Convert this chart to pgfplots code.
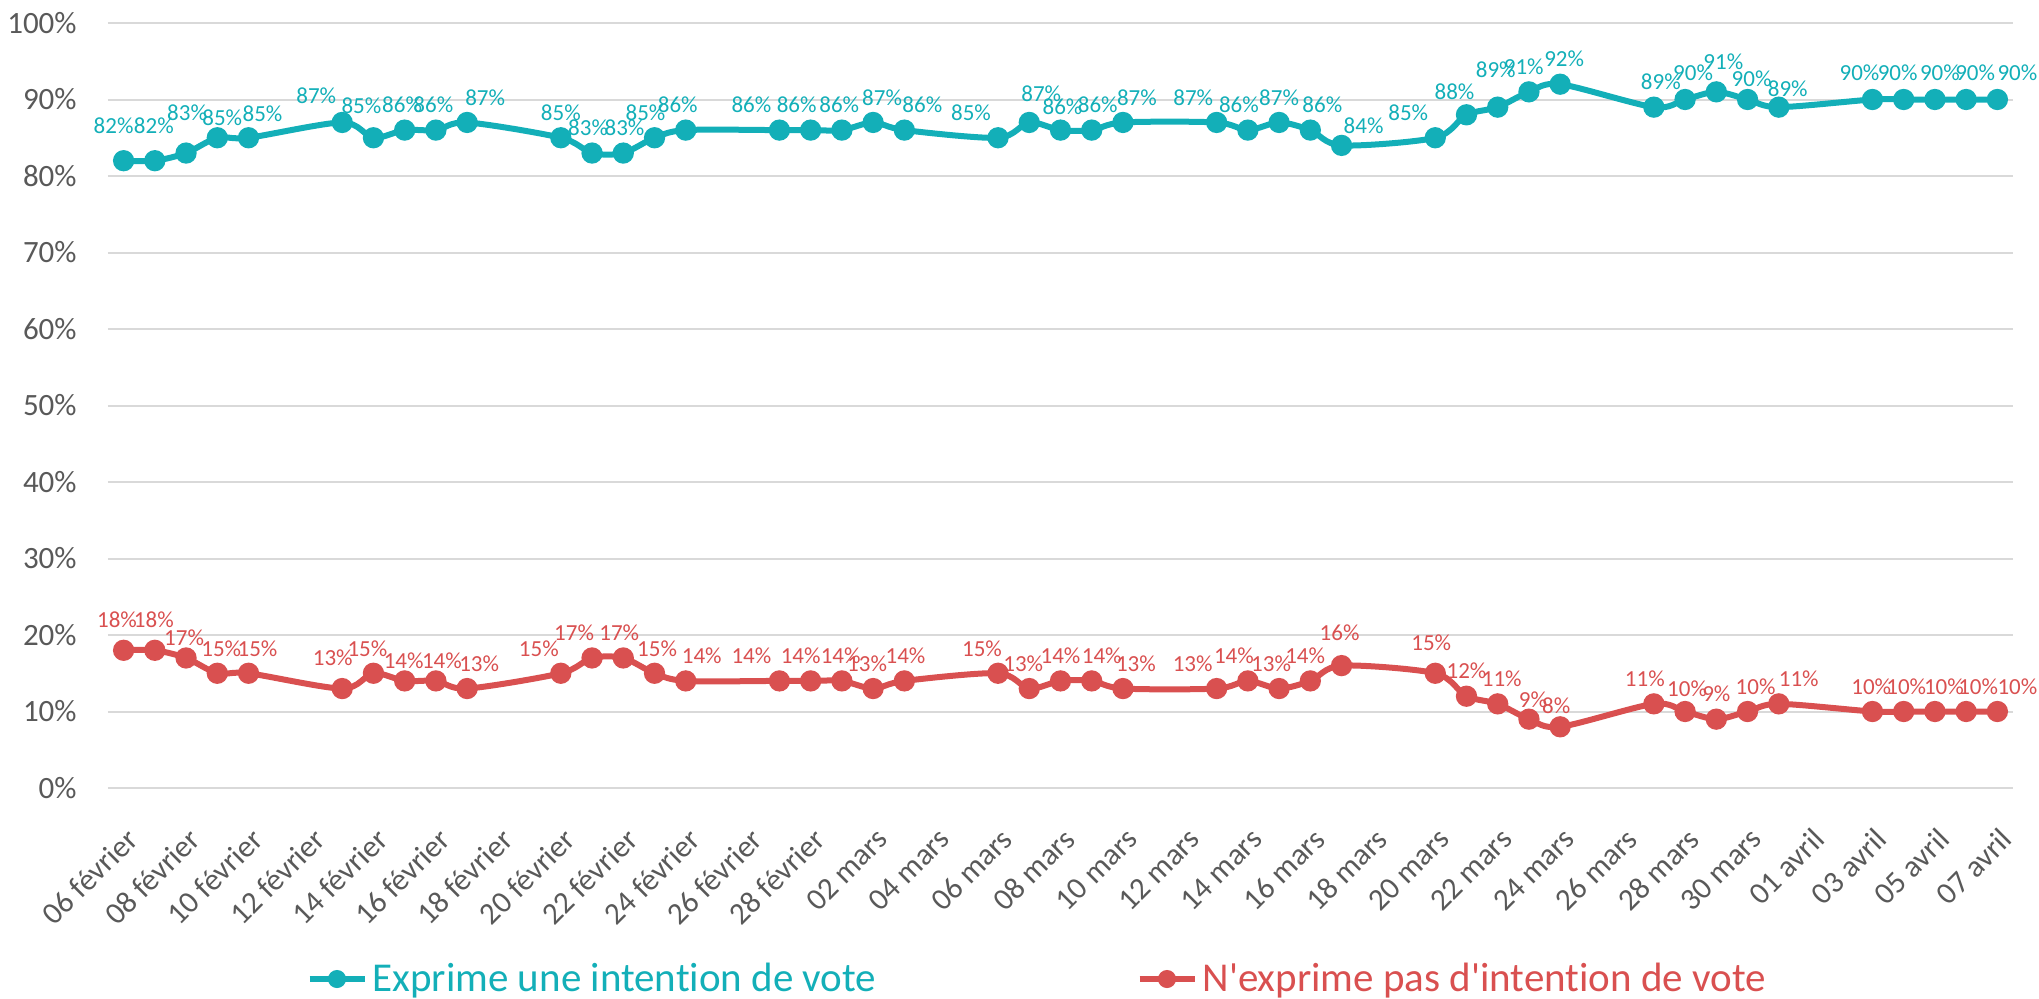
\documentclass[border=0pt]{standalone}
\usepackage{pgfplots}
\pgfplotsset{compat=1.18}
\usepackage{fontspec}
\setmainfont{Carlito}[Ligatures={NoCommon}]
\newfontfamily\legfont{Carlito}[Ligatures={NoCommon}]
\definecolor{tealc}{RGB}{19,175,184}
\definecolor{redc}{RGB}{217,80,80}
\definecolor{gridc}{RGB}{217,217,217}
\definecolor{textc}{RGB}{89,89,89}
\pgfplotstableread{
x y dx dy
0 82 -5 5
1 82 -0.5 5
2 83 0.5 7.5
3 85 2.5 -2.5
4 85 7 -0.5
7 87 -13 1
8 85 -6 3.5
9 86 -1.3 0
10 86 -1.3 0
11 87 9 0
14 85 0 0
15 83 -2 0
16 83 0.6 0
17 85 -4.5 0
18 86 -4 0
21 86 -14 0
22 86 -7 0
23 86 -1.3 0
24 87 4.5 0
25 86 9 0
28 85 -13.5 0
29 87 6 2
30 86 1 -1
31 86 3 0
32 87 7 0
35 87 -11.7 0
36 86 -4.5 0
37 87 0 0
38 86 6 0
39 84 11 -2.75
42 85 -13.5 0
43 88 -6 -1
44 89 -1 6
45 91 -2.6 0
46 92 2 0
49 89 3.5 0
50 90 4 1
51 91 3.5 2.5
52 90 2 -2
53 89 4.5 -3.5
56 90 -6.5 1
57 90 -3 1
58 90 2.5 1
59 90 4.5 1
60 90 10 1
}\blue
\pgfplotstableread{
x y dx dy
0 18 -3.3 3
1 18 -0.5 3
2 17 -1 -2.5
3 15 2 0
4 15 4.5 0
7 13 -4.75 3
8 15 -3 0
9 14 -0.5 -2.5
10 14 3 -2.5
11 13 6 0
14 15 -11 0
15 17 -9 0
16 17 -2 0
17 15 1.3 0
18 14 8 0
21 14 -14 0
22 14 -5 0
23 14 -0.6 0
24 13 -3 0
25 14 0.6 0
28 15 -8 0
29 13 -3 0
30 14 0 0
31 14 5 0
32 13 6.5 0
35 13 -12 0
36 14 -7 0
37 13 -4 0
38 14 -2.6 0
39 16 -1 4
42 15 -2 3
43 12 0 0
44 11 2 0
45 9 2 -3
46 8 -2 -2
49 11 -4.5 0
50 10 1 -1
51 9 0 0
52 10 4 0
53 11 10 0
56 10 -0.6 0
57 10 1.3 0
58 10 4.5 0
59 10 6 0
60 10 10 0
}\red
\begin{document}
\begin{tikzpicture}
\useasboundingbox (-54pt,-105pt) rectangle (965.5pt,394pt);
\begin{axis}[
  at={(0,0)}, anchor=south west,
  scale only axis, width=952.5pt, height=382.5pt,
  xmin=-0.5, xmax=60.5, ymin=0, ymax=100,
  axis line style={draw=none}, tick style={draw=none},
  ymajorgrids, grid style={gridc, line width=1pt},
  ytick={0,10,...,100},
  yticklabels={0\%,10\%,20\%,30\%,40\%,50\%,60\%,70\%,80\%,90\%,100\%},
  yticklabel style={font=\fontsize{15.5}{18}\selectfont, text=textc, inner sep=0pt, xshift=-15.5pt},
  xtick={0,2,...,60},
  xticklabels={06 février,08 février,10 février,12 février,14 février,16 février,18 février,20 février,22 février,24 février,26 février,28 février,02 mars,04 mars,06 mars,08 mars,10 mars,12 mars,14 mars,16 mars,18 mars,20 mars,22 mars,24 mars,26 mars,28 mars,30 mars,01 avril,03 avril,05 avril,07 avril},
  xticklabel style={font=\fontsize{15.5}{18}\selectfont, text=textc, rotate=45, anchor=east, inner sep=0pt, xshift=-13pt, yshift=-19.5pt},
  nodes near coords={\pgfmathprintnumber[assume math mode=true]{\pgfplotspointmeta}\%},
  point meta=y,
  visualization depends on={\thisrow{dx} \as \labdx},
  visualization depends on={\thisrow{dy} \as \labdy},
  every node near coord/.append style={font=\fontsize{11.5}{13}\selectfont, anchor=center, inner sep=0pt, yshift=12.5pt, xshift=\labdx pt, yshift=\labdy pt},
  legend columns=2,
  legend style={at={(0.104,-0.2497)}, anchor=west, draw=none, fill=none, inner sep=0pt,
    nodes={inner xsep=0pt, inner ysep=0pt}},
  legend cell align=left,
  legend image code/.code={\draw[#1, mark repeat=2, mark phase=2, mark size=3pt] plot coordinates {(0pt,0pt) (13.75pt,0pt) (27.5pt,0pt)};},
]
\addplot[tealc, line width=3pt, smooth, mark=*, mark size=3.8pt, every node near coord/.append style={text=tealc}] table {\blue};
\addlegendentry{\hspace*{2.5pt}\makebox[382pt][l]{\legfont\fontsize{20.5}{22}\selectfont\textcolor{tealc}{Exprime une intention de vote}}}
\addplot[redc, line width=3pt, smooth, mark=*, mark size=3.8pt, every node near coord/.append style={text=redc}] table {\red};
\addlegendentry{\hspace*{2.5pt}\legfont\fontsize{20.5}{22}\selectfont\textcolor{redc}{N'exprime pas d'intention de vote}}
\end{axis}
\end{tikzpicture}
\end{document}
